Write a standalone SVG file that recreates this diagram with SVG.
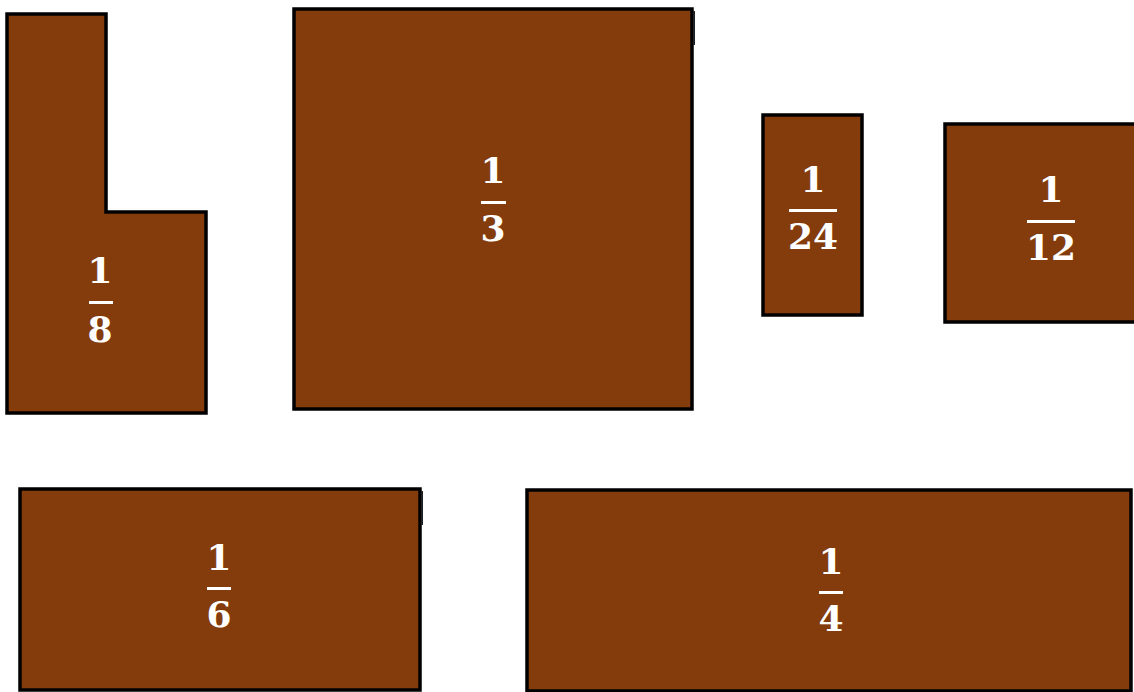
<svg xmlns="http://www.w3.org/2000/svg" width="1134" height="692" viewBox="0 0 1134 692">
<style>
.shape{fill:#843C0C;stroke:#000;stroke-width:3.5}
.num{font-family:"DejaVu Serif","Liberation Serif",serif;font-weight:bold;font-size:36px;fill:#fff;text-anchor:middle}
.bar{fill:#fff}
.mark{stroke:#222;stroke-width:2}
</style>
<rect width="1134" height="692" fill="#fff"/>
<g id="eighth">
<path class="shape" d="M7,14 H106 V212 H206 V413 H7 Z"/>
<text class="num" x="100" y="283">1</text>
<rect class="bar" x="89" y="301" width="24" height="3"/>
<text class="num" x="100" y="342">8</text>
</g>
<g id="third">
<rect class="shape" x="294" y="9" width="398" height="400"/>
<line class="mark" x1="694" y1="11" x2="694" y2="45"/>
<text class="num" x="493" y="183">1</text>
<rect class="bar" x="481" y="201" width="25" height="3"/>
<text class="num" x="493" y="241">3</text>
</g>
<g id="twentyfourth">
<rect class="shape" x="763" y="115" width="99" height="200"/>
<text class="num" x="813" y="192">1</text>
<rect class="bar" x="789" y="209" width="48" height="3"/>
<text class="num" x="813" y="249">24</text>
</g>
<g id="twelfth">
<rect class="shape" x="945" y="124" width="200" height="198"/>
<text class="num" x="1051" y="202">1</text>
<rect class="bar" x="1027" y="220" width="48" height="3"/>
<text class="num" x="1051" y="260">12</text>
</g>
<g id="sixth">
<rect class="shape" x="20" y="489" width="400" height="201"/>
<line class="mark" x1="422" y1="491" x2="422" y2="525"/>
<text class="num" x="219" y="570">1</text>
<rect class="bar" x="207" y="587" width="24" height="3"/>
<text class="num" x="219" y="627">6</text>
</g>
<g id="fourth">
<rect class="shape" x="527" y="490" width="604" height="201"/>
<text class="num" x="831" y="574">1</text>
<rect class="bar" x="819" y="591" width="24" height="3"/>
<text class="num" x="831" y="631">4</text>
</g>
</svg>
